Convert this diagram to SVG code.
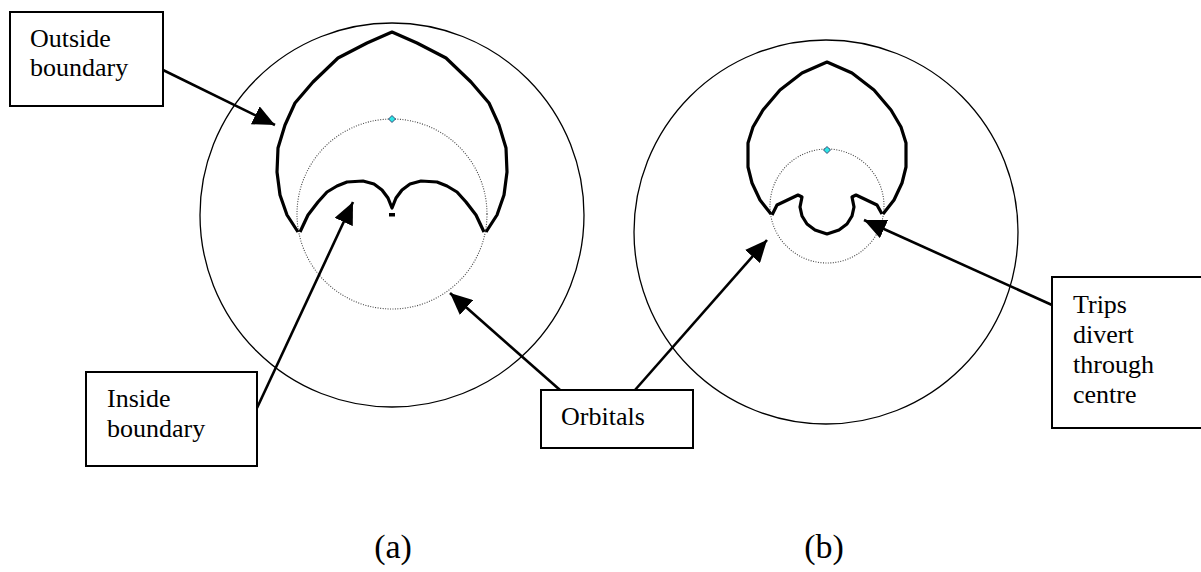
<svg xmlns="http://www.w3.org/2000/svg" width="1201" height="572" viewBox="0 0 1201 572">
  <style>
    .ring { fill: none; stroke: #000; stroke-width: 1.3; }
    .orbit { fill: none; stroke: #444; stroke-width: 1.1; stroke-dasharray: 1 1.5; }
    .bound { fill: none; stroke: #000; stroke-width: 3.2; stroke-linejoin: round; }
    .box { fill: #fff; stroke: #000; stroke-width: 2; }
    .lbl { font-family: "Liberation Serif", "Times New Roman", serif; font-size: 26px; fill: #000; }
    .cap { font-family: "Liberation Serif", "Times New Roman", serif; font-size: 34px; fill: #000; text-anchor: middle; }
    .conn { fill: none; stroke: #000; stroke-width: 2.6; marker-end: url(#head); }
    .pin { fill: #2ee6e6; stroke: #225; stroke-width: 0.8; }
  </style>
  <defs>
    <marker id="head" markerUnits="userSpaceOnUse" markerWidth="24" markerHeight="20" refX="22" refY="10" orient="auto">
      <path d="M0,0 L22,10 L0,20 Z" fill="#000"/>
    </marker>
  </defs>

  <rect width="1201" height="572" fill="#fff"/>

  <!-- diagram (a) -->
  <g id="diagram-a">
    <circle class="ring" cx="392" cy="215" r="192"/>
    <circle class="orbit" cx="392" cy="214" r="95"/>
    <polyline class="bound" points="298,232 287,215 280,195 277,172 278,148 285,125 295,103 313,82 338,58 367,43 392,32 417,43 446,58 471,82 489,103 499,125 506,148 507,172 504,195 497,215 486,232"/>
    <polyline class="bound" points="300,232 308,215 318,202 327,192 337,186 347,182 363,181 374,184 382,190 388,198 392,208 396,198 402,190 410,184 421,181 437,182 447,186 457,192 466,202 476,215 484,232"/>
    <rect x="389" y="213" width="6" height="3.5" fill="#000"/>
    <path class="pin" d="M392,115.5 L395.5,119 L392,122.5 L388.5,119 Z"/>
  </g>

  <!-- diagram (b) -->
  <g id="diagram-b">
    <circle class="ring" cx="826" cy="232" r="192"/>
    <circle class="orbit" cx="827" cy="206" r="57"/>
    <polyline class="bound" points="771,214 760,200 752,183 748,167 748,143 753,127 763,110 780,90 802,73 827,62 852,73 874,90 891,110 901,127 906,143 906,167 902,183 894,200 883,214"/>
    <polyline class="bound" points="772,215 777,205 798,195 802,197 800,207 802,216 807,224 815,230 827,234 839,230 847,224 852,216 854,207 852,197 856,195 877,205 882,214"/>
    <path class="pin" d="M827,146.5 L830.5,150 L827,153.5 L823.5,150 Z"/>
  </g>

  <!-- connectors -->
  <g id="connectors">
    <line class="conn" x1="163" y1="70" x2="275" y2="125"/>
    <line class="conn" x1="257" y1="408" x2="353" y2="202"/>
    <line class="conn" x1="560" y1="390" x2="450" y2="293"/>
    <line class="conn" x1="635" y1="390" x2="767" y2="240"/>
    <line class="conn" x1="1052" y1="305" x2="864" y2="220"/>
  </g>

  <!-- label boxes -->
  <g id="label-outside">
    <rect class="box" x="10" y="12" width="153" height="94"/>
    <text class="lbl" x="30" y="47">Outside</text>
    <text class="lbl" x="30" y="76">boundary</text>
  </g>
  <g id="label-inside">
    <rect class="box" x="86" y="372" width="171" height="94"/>
    <text class="lbl" x="107" y="407">Inside</text>
    <text class="lbl" x="107" y="437">boundary</text>
  </g>
  <g id="label-orbitals">
    <rect class="box" x="541" y="390" width="152" height="58"/>
    <text class="lbl" x="561" y="425">Orbitals</text>
  </g>
  <g id="label-trips">
    <rect class="box" x="1052" y="277" width="160" height="151"/>
    <text class="lbl" x="1073" y="313">Trips</text>
    <text class="lbl" x="1073" y="343">divert</text>
    <text class="lbl" x="1073" y="373">through</text>
    <text class="lbl" x="1073" y="403">centre</text>
  </g>

  <!-- captions -->
  <g id="caption-a"><text class="cap" x="393" y="558">(a)</text></g>
  <g id="caption-b"><text class="cap" x="824" y="558">(b)</text></g>
</svg>
